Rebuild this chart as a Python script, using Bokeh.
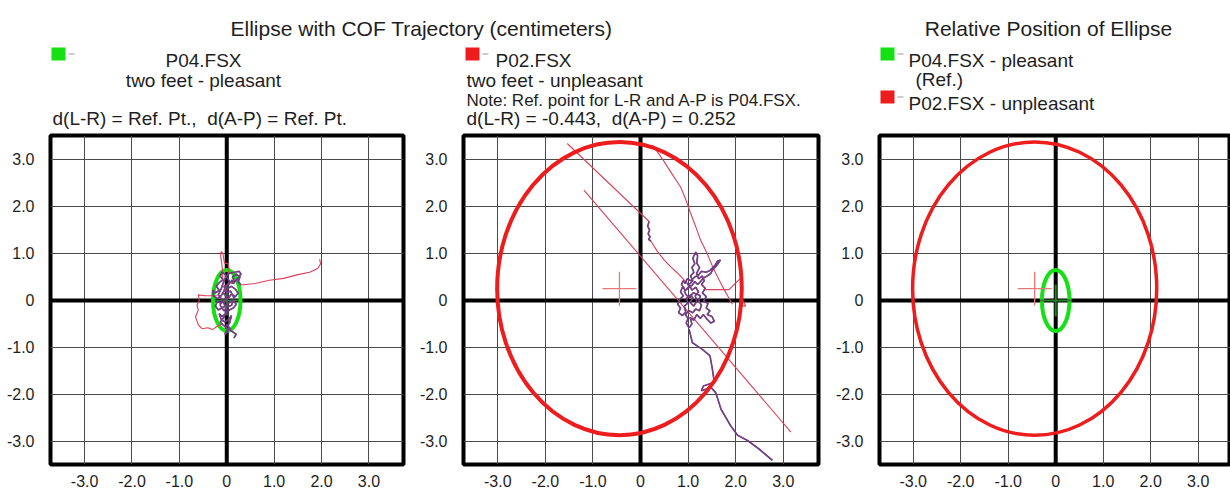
from bokeh.plotting import figure
from bokeh.layouts import column, row
from bokeh.models import Range1d, FixedTicker, Span, PrintfTickFormatter
from bokeh.core.properties import value
from bokeh.embed import file_html
from bokeh.resources import INLINE

FONT = "Liberation Sans"
TEXT_COLOR = "#1e1e1e"
NBSP = "\u00a0"

# ---------------------------------------------------------------- data (cm)
tick_values = [-3, -2, -1, 0, 1, 2, 3]

# confidence ellipses: centre (L-R, A-P) and semi-axes
p04_center = [0.0, 0.0]
p04_axes = [0.29, 0.65]
p02_center = [-0.443, 0.252]
p02_axes = [2.57, 3.12]

# P04.FSX (two feet - pleasant) centre-of-force path, split in pieces
p04_cluster_x = [0.30, 0.24, 0.28, 0.20, 0.12, 0.16, 0.08, 0.02, -0.04, -0.10, -0.14,
                 -0.08, -0.16, -0.22, -0.16, -0.24, -0.30, -0.28, -0.20, -0.12, -0.06,
                 0.02, 0.10, 0.18, 0.24, 0.18, 0.10, 0.04, -0.04, -0.12, -0.20, -0.24,
                 -0.18, -0.10, -0.02, 0.06, 0.14, 0.20, 0.14, 0.06, -0.02, -0.10, -0.16,
                 -0.12, -0.04, 0.04, 0.10, 0.06, -0.02, 0.04, -0.04, 0.02, -0.08, -0.14,
                 -0.06, 0.00, -0.06, 0.00, -0.08, -0.02, 0.06, 0.14, 0.22, 0.30, 0.26,
                 0.16, 0.06, -0.02, -0.08, -0.12, -0.18, -0.10, -0.14, -0.06, 0.02, 0.10,
                 0.16, 0.08, 0.00, -0.06, 0.04, 0.12]
p04_cluster_y = [0.33, 0.40, 0.50, 0.56, 0.50, 0.42, 0.38, 0.46, 0.56, 0.60, 0.52,
                 0.44, 0.38, 0.30, 0.22, 0.16, 0.22, 0.10, 0.04, 0.10, 0.20,
                 0.26, 0.30, 0.24, 0.16, 0.08, 0.14, 0.06, 0.00, -0.06, -0.02, -0.12,
                 -0.20, -0.16, -0.10, -0.04, 0.00, -0.08, -0.16, -0.20, -0.28, -0.34, -0.28,
                 -0.40, -0.46, -0.40, -0.32, -0.48, -0.56, -0.64, -0.72, -0.60, -0.52, -0.46,
                 -0.36, -0.20, -0.06, 0.08, 0.16, 0.30, 0.40, 0.36, 0.46, 0.56, 0.62,
                 0.60, 0.58, 0.50, 0.36, 0.24, 0.12, 0.02, -0.10, -0.22, -0.14, -0.10,
                 0.04, 0.20, 0.16, 0.30, 0.34, 0.44]
p04_spike_x = [-0.08, -0.10, -0.13, -0.12, -0.08, -0.05, 0.03, 0.05, 0.02]
p04_spike_y = [0.45, 0.75, 0.95, 1.04, 1.00, 0.80, 0.78, 0.66, 0.55]
p04_loop_x = [-0.20, -0.45, -0.60, -0.58, -0.63, -0.60, -0.66, -0.60, -0.52, -0.40,
              -0.30, -0.20, -0.10]
p04_loop_y = [0.10, 0.10, 0.12, 0.00, -0.10, -0.20, -0.35, -0.52, -0.60, -0.58,
              -0.62, -0.55, -0.50]
p04_drift_x = [0.30, 0.60, 0.90, 1.20, 1.50, 1.75, 1.92, 1.98, 1.96]
p04_drift_y = [0.33, 0.36, 0.43, 0.47, 0.55, 0.60, 0.68, 0.78, 0.88]
p04_tail_x = [0.00, 0.10, 0.20, 0.15]
p04_tail_y = [-0.50, -0.65, -0.72, -0.80]

# P02.FSX (two feet - unpleasant) centre-of-force path, split in pieces
p02_cluster_x = [0.98, 1.02, 0.95, 0.88, 0.84, 0.90, 0.82, 0.78, 0.84, 0.80, 0.88, 0.95,
                 0.92, 1.00, 0.96, 1.05, 1.10, 1.04, 1.12, 1.18, 1.15, 1.22, 1.16, 1.08,
                 1.02, 1.10, 1.05, 1.12, 1.08, 1.14, 1.10, 1.16, 1.20, 1.18, 1.24, 1.18,
                 1.22, 1.30, 1.34, 1.28, 1.36, 1.30, 1.38, 1.32, 1.42, 1.38, 1.46, 1.40,
                 1.50, 1.55, 1.48, 1.40, 1.32, 1.26, 1.18, 1.12, 1.04, 1.08, 1.02, 0.96,
                 1.00, 0.94, 1.02, 1.10, 1.16, 1.24, 1.28, 1.22, 1.26, 1.18, 1.10, 1.04,
                 0.96, 0.92, 1.00, 1.08, 1.14, 1.20, 1.26, 1.32, 1.40, 1.48, 1.52, 1.58,
                 1.64, 1.68, 1.62, 1.56, 1.46, 1.38, 1.28, 1.22, 1.14, 1.06, 0.98, 0.94,
                 0.90, 0.86, 0.92]
p02_cluster_y = [0.37, 0.30, 0.22, 0.28, 0.18, 0.10, 0.02, -0.08, -0.16, -0.26, -0.32, -0.25,
                 -0.12, -0.05, 0.05, 0.12, 0.05, -0.04, -0.12, -0.02, 0.10, 0.18, 0.28, 0.22,
                 0.34, 0.42, 0.52, 0.60, 0.70, 0.78, 0.90, 1.03, 0.95, 0.80, 0.70, 0.58,
                 0.46, 0.52, 0.42, 0.34, 0.26, 0.16, 0.08, -0.02, -0.06, -0.16, -0.22, -0.30,
                 -0.34, -0.44, -0.48, -0.40, -0.30, -0.38, -0.30, -0.42, -0.36, -0.50, -0.58,
                 -0.48, -0.38, -0.30, -0.22, -0.26, -0.18, -0.22, -0.10, 0.00, 0.10, 0.14,
                 0.16, 0.06, 0.12, 0.20, 0.26, 0.32, 0.40, 0.34, 0.40, 0.48, 0.52, 0.58,
                 0.66, 0.72, 0.80, 0.86, 0.84, 0.74, 0.64, 0.60, 0.62, 0.54, 0.50, 0.42,
                 0.46, 0.36, 0.42, 0.34, 0.26]
p02_jump_a_x = [-1.54, 0.18]
p02_jump_a_y = [3.34, 1.68]
p02_jump_b_x = [-1.19, 3.16]
p02_jump_b_y = [2.35, -2.80]
p02_descent_x = [0.18, 0.15, 0.19, 0.16, 0.20, 0.17, 0.22]
p02_descent_y = [1.68, 1.58, 1.50, 1.42, 1.35, 1.30, 1.26]
p02_approach_x = [0.22, 0.35, 0.49, 0.63, 0.77, 0.98]
p02_approach_y = [1.26, 1.05, 0.87, 0.72, 0.59, 0.37]
p02_ridge_x = [0.25, 0.48, 0.70, 0.84, 0.95, 1.05, 1.16, 1.26, 1.40, 1.51, 1.62, 1.72,
               1.83, 1.93]
p02_ridge_y = [3.31, 2.98, 2.63, 2.42, 2.15, 1.86, 1.57, 1.29, 1.00, 0.73, 0.50, 0.30,
               0.10, -0.08]
p02_side_x = [1.33, 1.60, 1.86, 2.11, 2.13, 2.14, 2.21, 2.07]
p02_side_y = [0.23, 0.23, 0.23, 0.48, 0.25, 0.02, -0.12, -0.10]
p02_tail_x = [1.02, 1.09, 1.30, 1.46, 1.51, 1.55, 1.32, 1.28, 1.48, 1.58, 1.69, 1.89,
              2.04, 2.25, 2.49, 2.77]
p02_tail_y = [-0.61, -0.90, -1.04, -1.18, -1.46, -1.74, -1.82, -1.92, -1.85, -1.96,
              -2.31, -2.66, -2.87, -2.98, -3.16, -3.40]

# --------------------------------------------------------------- styling
GREEN = "#14e014"
RED = "#ee1c1c"
PATH_RED = "#d9405a"
PATH_BLUE = "#3d3894"
CROSS_RED = "#e47a7a"
CROSS_GREEN = "#2c7c2c"
Y_RANGE = (-3.49, 3.51)


def panel(width, left, right, x_range):
    p = figure(width=width, height=359, x_range=Range1d(*x_range),
               y_range=Range1d(*Y_RANGE), min_border_left=left,
               min_border_right=right, min_border_top=5, min_border_bottom=24,
               output_backend="svg", toolbar_location=None)
    for ax in (p.xaxis, p.yaxis):
        ax.ticker = FixedTicker(ticks=tick_values)
        ax.formatter = PrintfTickFormatter(format="%.1f")
        ax.major_label_overrides = {0: "0"}
        ax.axis_line_color = None
        ax.major_tick_line_color = None
        ax.minor_tick_line_color = None
        ax.major_label_text_font = FONT
        ax.major_label_text_font_size = "16px"
        ax.major_label_text_color = TEXT_COLOR
    p.xaxis.major_label_standoff = 4
    p.yaxis.major_label_standoff = 10
    p.grid.grid_line_color = "#4a4a4a"
    p.grid.grid_line_width = 1
    p.outline_line_color = "black"
    p.outline_line_width = 4
    p.outline_line_alpha = 1
    p.background_fill_color = "white"
    p.border_fill_color = "white"
    # zero lines sit under the data marks
    p.add_layout(Span(location=0, dimension="height", line_color="black",
                      line_width=4, level="underlay"))
    p.add_layout(Span(location=0, dimension="width", line_color="black",
                      line_width=4, level="underlay"))
    return p


def draw_path(p, red_pieces, blue_pieces):
    p.multi_line(xs=[x for x, _ in red_pieces], ys=[y for _, y in red_pieces],
                 line_color=PATH_RED, line_width=1.1)
    p.multi_line(xs=[x for x, _ in blue_pieces], ys=[y for _, y in blue_pieces],
                 line_color=PATH_BLUE, line_width=1.7, line_alpha=0.85)
    p.multi_line(xs=[x for x, _ in blue_pieces], ys=[y for _, y in blue_pieces],
                 line_color=PATH_RED, line_width=0.7, line_alpha=0.55)


def draw_ellipse(p, center, axes, color, lw):
    p.ellipse(x=[center[0]], y=[center[1]], width=[2 * axes[0]], height=[2 * axes[1]],
              fill_color=None, line_color=color, line_width=lw)


# ---------------------------------------------------------- panel 1 : P04
p1 = panel(415, 50, 12, (-3.72, 3.73))
p1.scatter(x=[p04_center[0]], y=[p04_center[1]], marker="cross", size=30,
           line_color=CROSS_GREEN, line_width=2)
draw_ellipse(p1, p04_center, p04_axes, GREEN, 4)
draw_path(p1,
          [(p04_cluster_x, p04_cluster_y), (p04_spike_x, p04_spike_y),
           (p04_loop_x, p04_loop_y), (p04_drift_x, p04_drift_y),
           (p04_tail_x, p04_tail_y)],
          [(p04_cluster_x, p04_cluster_y), (p04_tail_x, p04_tail_y)])

# ---------------------------------------------------------- panel 2 : P02
p2 = panel(413, 48, 10, (-3.72, 3.74))
draw_path(p2,
          [(p02_jump_a_x, p02_jump_a_y), (p02_jump_b_x, p02_jump_b_y),
           (p02_descent_x, p02_descent_y), (p02_approach_x, p02_approach_y),
           (p02_ridge_x, p02_ridge_y), (p02_side_x, p02_side_y),
           (p02_cluster_x, p02_cluster_y), (p02_tail_x, p02_tail_y)],
          [(p02_cluster_x, p02_cluster_y), (p02_tail_x, p02_tail_y),
           (p02_descent_x, p02_descent_y)])
draw_ellipse(p2, p02_center, p02_axes, RED, 4)
p2.scatter(x=[p02_center[0]], y=[p02_center[1]], marker="cross", size=34,
           line_color=CROSS_RED, line_width=1.3)

# ------------------------------------------------ panel 3 : relative position
p3 = panel(402, 51, 0, (-3.71, 3.68))
draw_ellipse(p3, p02_center, p02_axes, RED, 3.5)
draw_ellipse(p3, p04_center, p04_axes, GREEN, 4)
p3.scatter(x=[p02_center[0]], y=[p02_center[1]], marker="cross", size=34,
           line_color=CROSS_RED, line_width=1.3)
p3.scatter(x=[p04_center[0]], y=[p04_center[1]], marker="cross", size=32,
           line_color=CROSS_GREEN, line_width=2)

# ------------------------------------------------ header: titles and legends
head = figure(width=1230, height=130, x_range=Range1d(0, 1230), y_range=Range1d(130, 0),
              min_border=0, x_axis_location=None, y_axis_location=None,
              output_backend="svg", toolbar_location=None)
head.grid.visible = False
head.outline_line_color = None

dl = p02_center[0] - p04_center[0]
dap = p02_center[1] - p04_center[1]
gap = "," + NBSP + " "


def txt(x, y, s, size="19px", align="left"):
    head.text(x=[x], y=[y], text=[s], text_font=value(FONT), text_font_size=size,
              text_align=align, text_baseline="alphabetic", text_color=TEXT_COLOR)


txt(421, 28, "Ellipse with COF Trajectory (centimeters)", "21px", "center")
txt(1048, 28, "Relative Position of Ellipse", "21px", "center")

txt(203, 59.5, "P04.FSX", align="center")
txt(203, 80, "two feet - pleasant", align="center")
txt(52, 117.5, "d(L-R) = Ref. Pt." + gap + "d(A-P) = Ref. Pt.")

txt(495, 59.5, "P02.FSX")
txt(466, 80, "two feet - unpleasant")
txt(466, 100, "Note: Ref. point for L-R and A-P is P04.FSX.", "17px")
txt(466, 118, f"d(L-R) = {dl:.3f}" + gap + f"d(A-P) = {dap:.3f}")

txt(908, 59.5, "P04.FSX - pleasant")
txt(915, 79, "(Ref.)")
txt(908, 103, "P02.FSX - unpleasant")

# legend swatches (left/top corner) with their short grey connector
sw_left = [51, 465, 880, 880]
sw_top = [47, 47, 47, 90]
sw_c = [GREEN, RED, GREEN, RED]
head.quad(left=sw_left, right=[x + 14 for x in sw_left], top=sw_top,
          bottom=[y + 13 for y in sw_top], fill_color=sw_c, line_color=None)
head.segment(x0=[x + 17 for x in sw_left], y0=[y + 6.5 for y in sw_top],
             x1=[x + 23 for x in sw_left], y1=[y + 6.5 for y in sw_top],
             line_color="#9a9a9a", line_width=1.2)

layout = column(head, row(p1, p2, p3))
open("out.html", "w").write(file_html(layout, INLINE))
